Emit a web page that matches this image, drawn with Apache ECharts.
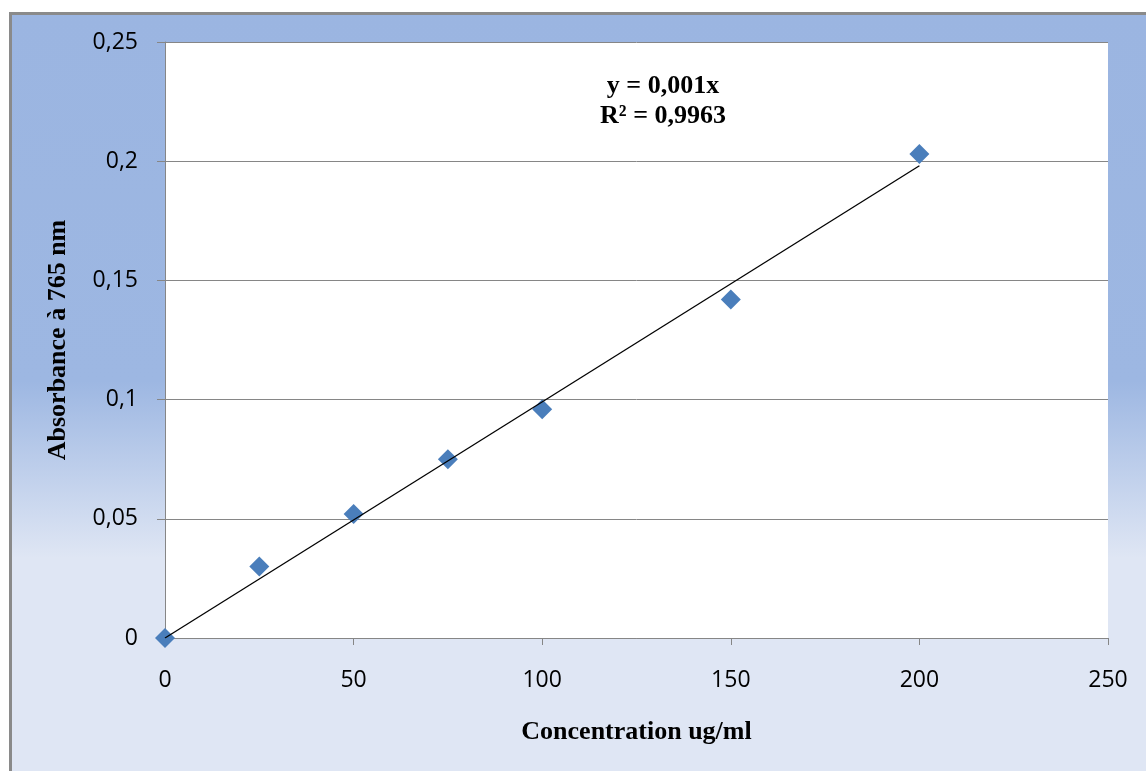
<!DOCTYPE html>
<html>
<head>
<meta charset="utf-8">
<script src="https://cdn.jsdelivr.net/npm/echarts@6/dist/echarts.min.js"></script>
<style>
  html, body { margin: 0; padding: 0; background: #fff; }
  #main { width: 1146px; height: 771px; }
</style>
</head>
<body>
<div id="main"></div>
<script>
// concentration (ug/ml) and measured absorbance
const concentration = [0, 25, 50, 75, 100, 150, 200];
const absorbance = [0, 0.030, 0.052, 0.075, 0.096, 0.142, 0.203];
const xTicks = [0, 50, 100, 150, 200, 250];
const yTicks = [0, 0.05, 0.1, 0.15, 0.2, 0.25];
const equationText = ["y = 0,001x", "R² = 0,9963"];

// linear fit through origin, drawn over the measured range
var sxy = 0, sxx = 0;
concentration.forEach(function (x, i) {
  sxy += x * absorbance[i];
  sxx += x * x;
});
const slope = sxy / sxx;
const trendX = [concentration[0], concentration[concentration.length - 1]];
const trend = trendX.map(function (x) { return [x, slope * x]; });

const points = concentration.map(function (x, i) { return [x, absorbance[i]]; });

function fmt(v) {
  return String(+v.toFixed(2)).replace(".", ",");
}

const gray = "#868686";
const serif = "'Liberation Serif', 'DejaVu Serif', serif";
const sans = "'Open Sans', 'Noto Sans', sans-serif";

var myChart = echarts.init(document.querySelector("#main"));

const options = {
  animation: false,
  backgroundColor: "#ffffff",
  graphic: [
    {
      type: "rect",
      z: -10,
      silent: true,
      shape: { x: 10.5, y: 13.5, width: 1160, height: 800 },
      style: {
        fill: {
          type: "linear", x: 0, y: 0, x2: 0, y2: 1, global: false,
          colorStops: [
            { offset: 0, color: "#9bb5e1" },
            { offset: 0.46, color: "#9db7e2" },
            { offset: 0.68, color: "#dfe6f4" },
            { offset: 1, color: "#dfe6f4" }
          ]
        },
        stroke: "#8a8a8a",
        lineWidth: 3
      }
    },
    {
      type: "text",
      z: 10,
      style: {
        x: 663, y: 86, text: equationText[0],
        align: "center", verticalAlign: "middle",
        font: "bold 26px " + serif, fill: "#000"
      }
    },
    {
      type: "text",
      z: 10,
      style: {
        x: 663, y: 116, text: equationText[1],
        align: "center", verticalAlign: "middle",
        font: "bold 26px " + serif, fill: "#000"
      }
    }
  ],
  grid: {
    left: 165,
    top: 42,
    right: 38,
    bottom: 133,
    show: true,
    backgroundColor: "#ffffff",
    borderWidth: 0
  },
  xAxis: {
    type: "value",
    min: xTicks[0],
    max: xTicks[xTicks.length - 1],
    interval: xTicks[1] - xTicks[0],
    name: "Concentration ug/ml",
    nameLocation: "middle",
    nameGap: 81,
    nameTextStyle: { fontFamily: serif, fontWeight: "bold", fontSize: 26, color: "#000" },
    axisLine: { show: true, onZero: false, lineStyle: { color: gray, width: 1 } },
    axisTick: { show: true, inside: false, length: 7, lineStyle: { color: gray } },
    axisLabel: { margin: 31, fontFamily: sans, fontSize: 23, color: "#000", formatter: fmt },
    splitLine: { show: false }
  },
  yAxis: {
    type: "value",
    min: yTicks[0],
    max: yTicks[yTicks.length - 1],
    interval: yTicks[1] - yTicks[0],
    name: "Absorbance à 765 nm",
    nameLocation: "middle",
    nameGap: 94,
    nameTextStyle: { fontFamily: serif, fontWeight: "bold", fontSize: 26, color: "#000" },
    axisLine: { show: true, lineStyle: { color: gray, width: 1 } },
    axisTick: { show: true, inside: false, length: 8, lineStyle: { color: gray } },
    axisLabel: { margin: 27, fontFamily: sans, fontSize: 23, color: "#000", formatter: fmt },
    splitLine: { show: true, lineStyle: { color: gray, width: 1 } }
  },
  series: [
    {
      type: "scatter",
      data: points,
      symbol: "diamond",
      symbolSize: 20,
      itemStyle: { color: "#4a7ebb", opacity: 1 },
      z: 3
    },
    {
      type: "line",
      data: trend,
      showSymbol: false,
      symbol: "none",
      lineStyle: { color: "#000", width: 1.3 },
      z: 4
    }
  ]
};

myChart.setOption(options);
window.onresize = function () {
  myChart.resize();
};
</script>
</body>
</html>
